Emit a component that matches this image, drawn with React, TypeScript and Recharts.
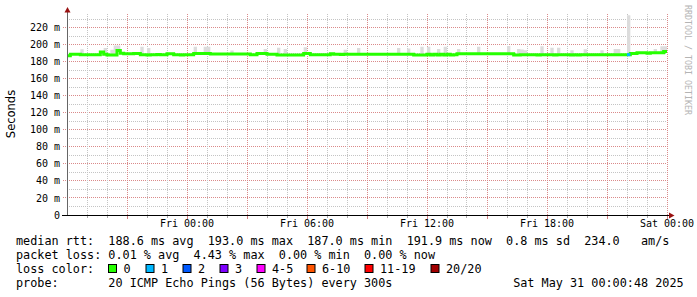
import React from 'react';
import { ComposedChart, Area, Line, XAxis, YAxis, CartesianGrid } from 'recharts';

// median rtt (ms), one value per 10 minute slot, Thu 18:00 -> Sat 00:00
const medianRtt = [
  187.0, 188.8, 188.8, 188.8, 188.2, 188.2, 188.2, 188.3, 188.2, 188.2,
  191.5, 188.6, 187.8, 187.8, 187.8, 193.0, 190.0, 189.4, 189.4, 189.4,
  189.6, 189.6, 188.2, 188.2, 188.0, 188.2, 188.2, 188.4, 188.2, 188.2,
  189.4, 189.4, 188.2, 188.2, 188.0, 188.2, 188.2, 188.2, 189.5, 189.5,
  189.5, 189.5, 189.5, 189.0, 188.9, 188.9, 188.9, 188.9, 188.9, 188.9,
  188.9, 188.9, 188.9, 188.9, 188.9, 188.3, 188.3, 189.5, 189.5, 189.5,
  188.8, 188.8, 188.8, 188.0, 188.0, 188.0, 188.0, 188.0, 188.0, 188.0,
  188.0, 189.5, 189.5, 188.3, 188.3, 188.3, 188.3, 188.3, 188.3, 189.3,
  188.6, 188.6, 188.4, 188.6, 188.6, 188.6, 188.6, 188.6, 188.6, 188.6,
  188.6, 188.6, 188.6, 188.6, 188.6, 188.6, 188.6, 188.6, 188.6, 188.6,
  188.6, 188.6, 188.6, 188.6, 188.0, 188.0, 188.0, 187.9, 188.6, 187.9,
  188.6, 187.9, 188.6, 187.9, 188.6, 187.9, 188.3, 189.4, 189.4, 189.4,
  189.4, 189.4, 189.4, 189.4, 189.4, 189.4, 189.4, 189.4, 189.4, 189.4,
  189.4, 189.4, 189.4, 189.4, 187.8, 187.8, 188.3, 188.3, 188.3, 188.3,
  188.3, 187.9, 188.3, 188.3, 188.3, 188.3, 187.9, 188.3, 188.3, 188.3,
  188.3, 187.9, 188.3, 187.9, 188.3, 188.3, 188.3, 188.3, 188.3, 188.3,
  188.3, 188.3, 188.3, 188.3, 188.3, 188.3, 188.3, 188.3, 188.3, 189.5,
  189.5, 190.5, 190.5, 190.5, 190.0, 190.5, 190.5, 190.5, 190.5, 191.9,
];

// slots where the smoke (ping spread) rises visibly above the median
const smokeSlot = [4, 11, 13, 14, 15, 22, 24, 38, 41, 42, 49, 59, 63, 65, 71, 83, 87, 99, 102, 106, 108, 111, 113, 117, 123, 132, 135, 136, 137, 142, 145, 147, 151, 155, 160, 164, 165, 168, 176, 178, 179];
const smokeTop = [194.5, 196, 194, 199, 199, 197.5, 196, 197.5, 197.5, 197.5, 193, 195, 196.5, 195, 197, 194, 196, 196, 195.5, 197.5, 197.5, 195, 197.5, 195, 197.5, 198.5, 195, 194.3, 193.5, 198, 196.5, 196.5, 193.5, 194.5, 193.5, 195, 195, 234.5, 195, 198, 198];

// slots with packet loss (count of lost pings out of 20)
const lossSlot = [168];
const lossCount = [1];

const lossLabels = ['0', '1', '2', '3', '4-5', '6-10', '11-19', '20/20'];
const lossColors = ['#26ff00', '#00b8ff', '#0059ff', '#7e00ff', '#ff00ff', '#ff5500', '#ff0000', '#a10000'];
const lossBoxX = [108, 145.5, 182.5, 219.5, 256.5, 306.5, 364.5, 430.5];

const yTicks = [0, 20, 40, 60, 80, 100, 120, 140, 160, 180, 200, 220];
const yGrid = [10, 20, 30, 40, 50, 60, 70, 80, 90, 100, 110, 120, 130, 140, 150, 160, 170, 180, 190, 200, 210, 220, 230];
const hourMarks = [60, 120, 180, 240, 300, 360, 420, 480, 540, 600, 660, 720, 780, 840, 900, 960, 1020, 1080, 1140, 1200, 1260, 1320, 1380, 1440, 1500, 1560, 1620, 1680, 1740, 1800];
const xLabelAt = [360, 720, 1080, 1440, 1800];
const xLabels = ['Fri 00:00', 'Fri 06:00', 'Fri 12:00', 'Fri 18:00', 'Sat 00:00'];

const statLines = [
  'median rtt:  188.6 ms avg  193.0 ms max  187.0 ms min  191.9 ms now  0.8 ms sd  234.0   am/s',
  'packet loss: 0.01 % avg  4.43 % max  0.00 % min  0.00 % now',
  'loss color:',
  'probe:       20 ICMP Echo Pings (56 Bytes) every 300s                 Sat May 31 00:00:48 2025',
];

const lossColorFor = (n: number) => {
  if (n <= 0) return 0;
  if (n <= 3) return n;
  if (n <= 5) return 4;
  if (n <= 10) return 5;
  if (n <= 19) return 6;
  return 7;
};

const data = [];
for (let i = 0; i <= medianRtt.length; i++) {
  const m = medianRtt[Math.min(i, medianRtt.length - 1)];
  const s = smokeSlot.indexOf(i);
  const row: any = { t: i * 10, median: m, smoke: [m, s >= 0 ? smokeTop[s] : m] };
  const l = lossSlot.indexOf(i);
  const prev = lossSlot.indexOf(i - 1);
  row.loss1 = l >= 0 && lossColorFor(lossCount[l]) === 1 ? m : prev >= 0 && lossColorFor(lossCount[prev]) === 1 ? medianRtt[i - 1] : null;
  data.push(row);
}

const MONO = '"DejaVu Sans Mono", monospace';
const MAJOR = '#da8a8a';
const MINOR = '#c4c4c4';
const snap = (v: number) => Math.floor(v) + 0.5;

// grid: every 10 m / every hour, major (reddish) every 20 m / 3 hours
const VGrid = (p: any) => {
  const hour = Math.round(((p.x1 - p.x) / p.width) * 30);
  return (
    <line key={p.key} x1={snap(p.x1)} x2={snap(p.x2)} y1={p.y1} y2={p.y2} stroke={hour % 3 === 0 ? MAJOR : MINOR} strokeDasharray="1 1" />
  );
};
const HGrid = (p: any) => {
  const step = Math.round(((p.y + p.height - p.y1) / p.height) * 23.6);
  return (
    <line key={p.key} x1={p.x1} x2={p.x2} y1={snap(p.y1)} y2={snap(p.y2)} stroke={step % 2 === 0 ? MAJOR : MINOR} strokeDasharray="1 1" />
  );
};

const XTick = (p: any) => {
  const v = p.payload.value;
  const k = xLabelAt.indexOf(v);
  const major = v % 180 === 0;
  return (
    <g>
      <line x1={snap(p.x)} x2={snap(p.x)} y1={216} y2={major ? 219 : 218} stroke={major ? '#d08080' : '#aaaaaa'} />
      {k >= 0 && (
        <text x={p.x} y={p.y} dy="0.71em" textAnchor="middle" fontFamily={MONO} fontSize={10} fill="#000">
          {xLabels[k]}
        </text>
      )}
    </g>
  );
};

const YTick = (p: any) => {
  const v = p.payload.value;
  return (
    <g>
      <line x1={63} x2={67} y1={snap(p.y)} y2={snap(p.y)} stroke={MAJOR} strokeDasharray="1 1" />
      <text x={p.x} y={p.y} dy="0.355em" textAnchor="end" fontFamily={MONO} fontSize={10} fill="#000">
        {v === 0 ? '0' : `${v} m`}
      </text>
    </g>
  );
};

const App = () => {
  return (
    <div style={{ position: 'absolute', left: 0, top: 0, width: 697, height: 297, background: '#fff' }}>
      <ComposedChart width={697} height={240} data={data} margin={{ top: 14, right: 30, left: 0, bottom: 0 }}>
        <CartesianGrid horizontalValues={yGrid} verticalValues={hourMarks} horizontal={HGrid} vertical={VGrid} />
        <XAxis
          dataKey="t"
          type="number"
          domain={[0, 1800]}
          allowDataOverflow
          ticks={hourMarks}
          interval={0}
          axisLine={false}
          tickLine={false}
          tickSize={0}
          tickMargin={5}
          height={25}
          tick={XTick}
        />
        <YAxis
          type="number"
          domain={[0, 236]}
          allowDataOverflow
          ticks={yTicks}
          interval={0}
          axisLine={false}
          tickLine={false}
          tickSize={0}
          tickMargin={7}
          width={67}
          tick={YTick}
        />
        <Area type="stepAfter" dataKey="smoke" fill="#dcdcdc" fillOpacity={1} stroke="none" isAnimationActive={false} />
        <Line type="stepAfter" dataKey="median" stroke={lossColors[0]} strokeWidth={3} dot={false} isAnimationActive={false} />
        <Line type="stepAfter" dataKey="loss1" stroke={lossColors[1]} strokeWidth={3} dot={false} connectNulls={false} isAnimationActive={false} />
      </ComposedChart>
      <svg width={697} height={297} style={{ position: 'absolute', left: 0, top: 0, pointerEvents: 'none' }}>
        <line x1={67.5} y1={12} x2={67.5} y2={215} stroke="#666" strokeWidth={1} />
        <line x1={62} y1={215.5} x2={669} y2={215.5} stroke="#000" strokeWidth={1.2} />
        <polygon points="64.5,12.5 70.5,12.5 67.5,7" fill="#991111" />
        <polygon points="669,212.5 669,218.5 674.5,215.5" fill="#991111" />
        <text transform="translate(15,114) rotate(-90)" textAnchor="middle" fontFamily='"DejaVu Sans", sans-serif' fontSize={11.5} fill="#000">
          Seconds
        </text>
        <text transform="translate(685,5) rotate(90)" fontFamily={MONO} fontSize={8.3} fill="#b4b4b4">
          RRDTOOL / TOBI OETIKER
        </text>
        {statLines.map((s, i) => (
          <text key={i} x={16} y={245 + 14 * i} fontFamily={MONO} fontSize={11.8} fill="#000" style={{ whiteSpace: 'pre' }}>
            {s}
          </text>
        ))}
        {lossLabels.map((label, i) => (
          <g key={label}>
            <rect x={lossBoxX[i] + 0.5} y={264.5} width={8} height={8} fill={lossColors[i]} stroke="#000" strokeWidth={1} />
            <text x={lossBoxX[i] + 15.5} y={273} fontFamily={MONO} fontSize={11.8} fill="#000">
              {label}
            </text>
          </g>
        ))}
      </svg>
    </div>
  );
};

export default App;
